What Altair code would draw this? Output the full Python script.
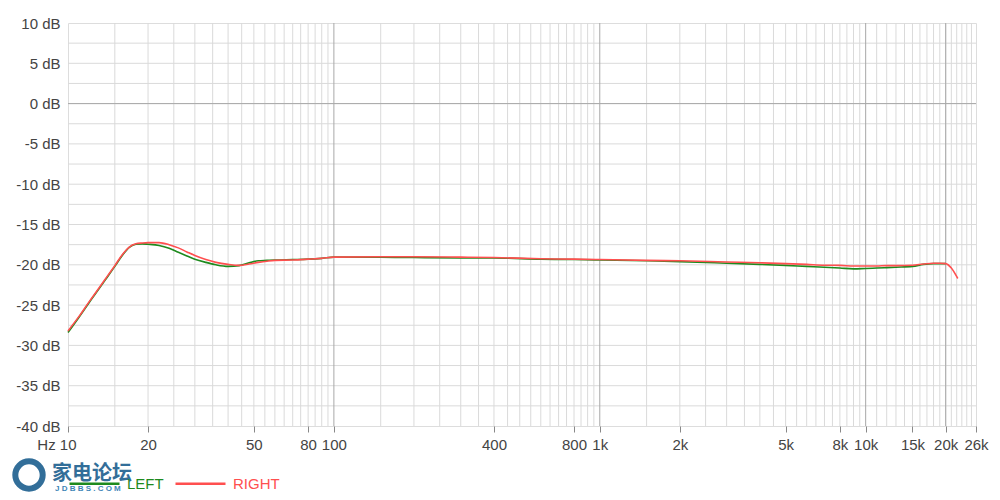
import altair as alt
import pandas as pd

# ---- data ----
freqs = [10, 11, 12, 13, 14, 15, 16, 17, 18, 19, 20, 22, 24, 26, 28, 30, 33, 36, 40, 44,
         48, 52, 56, 60, 70, 80, 90, 100, 150, 200, 300, 400, 600, 800, 1000, 1500, 2000,
         3000, 4000, 5000, 6000, 7000, 8000, 9000, 10000, 11000, 12000, 13000, 15000,
         16500, 18000, 19000, 20000]
left_db = [-28.4, -26.5, -24.7, -23.1, -21.6, -20.2, -18.85, -17.85, -17.45, -17.4, -17.45,
           -17.6, -17.95, -18.45, -18.9, -19.3, -19.7, -20.0, -20.2, -20.1, -19.75, -19.5,
           -19.45, -19.4, -19.35, -19.3, -19.2, -19.05, -19.05, -19.1, -19.15, -19.15,
           -19.3, -19.35, -19.4, -19.5, -19.6, -19.8, -19.95, -20.07, -20.2, -20.3, -20.4,
           -20.5, -20.45, -20.4, -20.35, -20.3, -20.2, -19.95, -19.85, -19.85, -19.85]

right_freqs = freqs + [21000, 22200]
right_db = [-28.2, -26.4, -24.6, -23.0, -21.5, -20.1, -18.75, -17.8, -17.4, -17.3, -17.25,
            -17.25, -17.5, -17.9, -18.4, -18.85, -19.35, -19.7, -19.95, -20.07, -19.9, -19.7,
            -19.55, -19.45, -19.4, -19.3, -19.2, -19.05, -19.0, -19.0, -19.05, -19.1,
            -19.25, -19.3, -19.35, -19.45, -19.5, -19.65, -19.75, -19.85, -19.95, -20.05,
            -20.07, -20.15, -20.15, -20.15, -20.1, -20.1, -20.05, -19.9, -19.8, -19.8,
            -19.85, -20.4, -21.7]

series_names = ["LEFT", "RIGHT"]
series_colors = ["#1e8a1e", "#ff4f4f"]

x_label_values = [10, 20, 50, 80, 100, 400, 800, 1000, 2000, 5000, 8000, 10000, 15000, 20000, 26000]
y_label_values = [-40, -35, -30, -25, -20, -15, -10, -5, 0, 5, 10]

v_grid = ([f for f in range(15, 100, 5)] + [f for f in range(150, 1000, 50)] +
          [f for f in range(1500, 10000, 500)] + [f for f in range(11000, 26000, 1000)])
v_grid_dark = [100, 1000, 10000, 20000]
h_grid = [v / 2 for v in range(-75, 20, 5)]
h_grid_dark = [0]

# ---- tables ----
lines_df = pd.concat([
    pd.DataFrame({"f": freqs, "db": left_db, "ch": "LEFT"}),
    pd.DataFrame({"f": right_freqs, "db": right_db, "ch": "RIGHT"}),
])

W, H = 908, 403
xscale = alt.Scale(type="log", domain=[10, 26000], nice=False, zero=False)
yscale = alt.Scale(domain=[-40, 10], nice=False, zero=False)

x_label_expr = ("datum.value == 10 ? 'Hz 10' : datum.value >= 1000 ? "
                "format(datum.value / 1000, 'd') + 'k' : format(datum.value, 'd')")

x_axis = alt.Axis(values=x_label_values, labelExpr=x_label_expr, grid=False,
                  domain=False, ticks=True, tickSize=6, tickColor="#888",
                  labelPadding=5, labelFontSize=15, labelColor="#444",
                  labelFont="Liberation Sans", labelFlush=False, labelOverlap=False,
                  labelAlign={"expr": "datum.value == 10 ? 'right' : 'center'"},
                  labelOffset={"expr": "datum.value == 10 ? 8 : 0"})
y_axis = alt.Axis(values=y_label_values, labelExpr="datum.value + ' dB'", grid=False,
                  domain=False, ticks=False, labelPadding=8, labelFontSize=15,
                  labelColor="#444", labelFont="Liberation Sans")

X = alt.X("f:Q", scale=xscale, title=None, axis=x_axis)
Y = alt.Y("db:Q", scale=yscale, title=None, axis=y_axis)

hgrid = alt.Chart(pd.DataFrame({"db": h_grid})).mark_rule(color="#dadada", strokeWidth=1).encode(y=Y)
hdark = alt.Chart(pd.DataFrame({"db": h_grid_dark})).mark_rule(color="#a8a8a8", strokeWidth=1).encode(y=Y)
vgrid = alt.Chart(pd.DataFrame({"f": v_grid})).mark_rule(color="#dadada", strokeWidth=1).encode(x=X)
vdark = alt.Chart(pd.DataFrame({"f": v_grid_dark})).mark_rule(color="#a8a8a8", strokeWidth=1).encode(x=X)

lines = alt.Chart(lines_df).mark_line(strokeWidth=1.6, interpolate="monotone").encode(
    x=X,
    y=Y,
    color=alt.Color("ch:N", scale=alt.Scale(domain=series_names, range=series_colors),
                    legend=alt.Legend(title=None, orient="none", legendX=0, legendY=434,
                                      direction="horizontal", symbolType="stroke",
                                      symbolSize=2500, symbolStrokeWidth=2.5,
                                      labelFontSize=15, labelFont="Liberation Sans",
                                      labelOffset=6, columnPadding=6,
                                      labelColor={"expr": "datum.value == 'LEFT' ? '#1e8a1e' : '#ff4f4f'"})),
    order=alt.Order("f:Q"),
)

wm_df = pd.DataFrame({"t": ["家电论坛"]})
wm1 = alt.Chart(wm_df).mark_text(text="家电论坛", align="left", baseline="middle", fontSize=20,
                                 fontWeight="bold", font="Noto Sans CJK SC", color="#1c5f8f",
                                 opacity=0.9).encode(x=alt.value(-16), y=alt.value(451))
wm2 = alt.Chart(wm_df).mark_text(text="J D B B S . C O M", align="left", baseline="middle", fontSize=8,
                                 fontWeight="bold", font="Liberation Sans", color="#2a78b0",
                                 opacity=0.9).encode(x=alt.value(-13), y=alt.value(466))
wm3 = alt.Chart(wm_df).mark_point(shape="circle", filled=False, strokeWidth=6, size=750,
                                  color="#1c5f8f", opacity=0.9).encode(x=alt.value(-39), y=alt.value(452))

chart = alt.layer(hgrid, vgrid, hdark, vdark, lines, wm3, wm1, wm2).properties(
    width=W, height=H,
    autosize=alt.AutoSizeParams(type="none"),
    padding={"left": 60, "top": 15, "right": 16, "bottom": 66},
).configure_view(stroke="#888", strokeWidth=1.5).configure(background="white")

chart.save("out.html", embed_options={"renderer": "svg", "actions": False})
